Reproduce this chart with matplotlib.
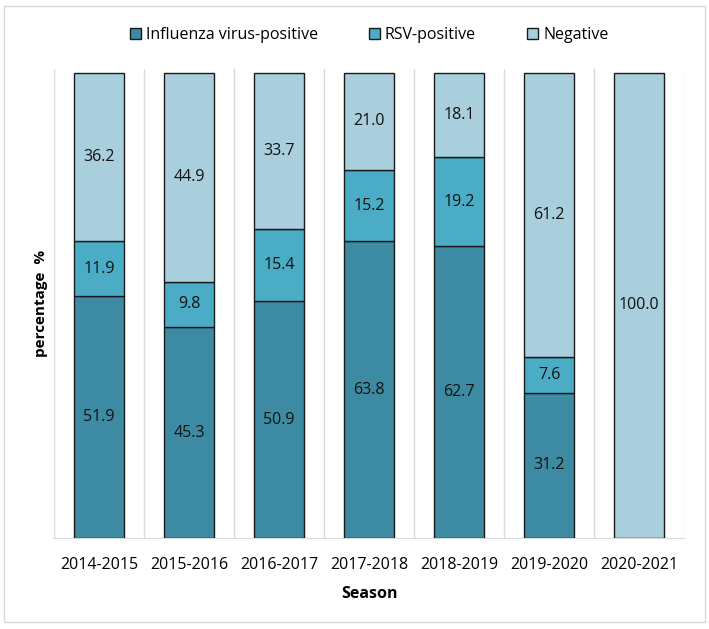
#!/usr/bin/env python3

import numpy as np
import matplotlib.pyplot as plt
from matplotlib.patches import Rectangle

seasons = ["2014-2015", "2015-2016", "2016-2017", "2017-2018",
           "2018-2019", "2019-2020", "2020-2021"]
influenza = [51.9, 45.3, 50.9, 63.8, 62.7, 31.2, 0.0]
rsv = [11.9, 9.8, 15.4, 15.2, 19.2, 7.6, 0.0]
negative = [36.2, 44.9, 33.7, 21.0, 18.1, 61.2, 100.0]

series = [("Influenza virus-positive", influenza, "#3d8ba3"),
          ("RSV-positive", rsv, "#4bacc6"),
          ("Negative", negative, "#a9cfdc")]

plt.rcParams["font.family"] = ["Open Sans", "DejaVu Sans"]

fig = plt.figure(figsize=(7.09, 6.29), dpi=100)
ax = fig.add_axes([0.0762, 0.1447, 0.8886, 0.745])

x = np.arange(len(seasons))
bottom = np.zeros(len(seasons))
for name, vals, color in series:
    vals = np.array(vals)
    bars = ax.bar(x, vals, 0.56, bottom=bottom, color=color, edgecolor="#1a1a1a",
                  linewidth=1.0, label=name, zorder=3)
    for b, v, y0 in zip(bars, vals, bottom):
        if v > 0:
            ax.text(b.get_x() + b.get_width() / 2, y0 + v / 2, f"{v:.1f}",
                    ha="center", va="center", fontsize=11.5, color="#111111", zorder=4)
    bottom += vals

ax.set_xlim(-0.5, len(seasons) - 0.5)
ax.set_ylim(0, 100.7)
ax.set_yticks([])
ax.set_xticks(x)
ax.set_xticklabels(seasons, fontsize=11.5)
ax.tick_params(axis="x", length=0, pad=14)
ax.set_xticks(np.arange(len(seasons) + 1) - 0.5, minor=True)
ax.tick_params(axis="x", which="minor", length=0)
ax.grid(which="minor", axis="x", color="#d9d9d9", linewidth=1.0, zorder=0)

for s in ["top", "right", "left"]:
    ax.spines[s].set_visible(False)
ax.spines["bottom"].set_color("#d9d9d9")

ax.set_xlabel("Season", fontsize=11.5, fontweight="bold", labelpad=9)
ax.set_ylabel("percentage  %", fontsize=11, fontweight="bold", labelpad=4)

ax.legend(loc="lower center", bbox_to_anchor=(0.5, 1.025), ncol=3, frameon=False,
          fontsize=11.5, handlelength=0.7, handleheight=0.7, handletextpad=0.3,
          columnspacing=3.2)

fig.patches.append(Rectangle((0.006, 0.011), 0.988, 0.98, transform=fig.transFigure,
                             fill=False, edgecolor="#d9d9d9", linewidth=1.0))

fig.savefig("out.png", dpi=100)
